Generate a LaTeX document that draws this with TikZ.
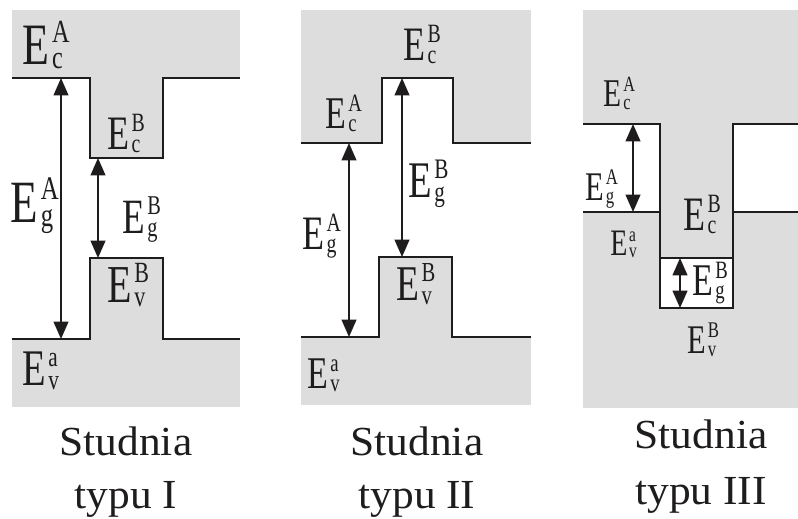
\documentclass[tikz,border=0pt]{standalone}
\usepackage{fontspec}
\setmainfont{Liberation Serif}
\newfontfamily\labfont[FakeStretch=0.75]{Liberation Serif}
\newfontfamily\capfont[FakeStretch=1.05]{Liberation Serif}
\usetikzlibrary{arrows.meta}
\definecolor{bandgray}{RGB}{221,221,221}
\definecolor{ink}{RGB}{30,28,28}
\newcommand{\EL}[3]{%
  \labfont\fontsize{#1}{#1}\selectfont E\kern0.05em%
  \rlap{\raisebox{0.37em}{\fontsize{\the\dimexpr #1pt*55/100\relax}{1pt}\selectfont #2}}%
  \raisebox{-0.08em}{\fontsize{\the\dimexpr #1pt*55/100\relax}{1pt}\selectfont #3}}
\tikzset{
  band/.style={line width=2.2pt, draw=ink, line join=miter},
  gaparrow/.style={line width=1.5pt, draw=ink,
    {Triangle[length=13pt,width=11pt]}-{Triangle[length=13pt,width=11pt]}},
  lab/.style={anchor=base west, inner sep=0pt, text=ink},
  captxt/.style={anchor=base, inner sep=0pt, text=ink,
    font=\capfont\fontsize{31}{31}\selectfont}
}
\begin{document}
\begin{tikzpicture}[x=0.75pt, y=-0.75pt]
\useasboundingbox (0,0) rectangle (798,518);
\fill[white] (0,0) rectangle (798,518);

% ---------- Panel 1 ----------
\fill[bandgray] (12,10) rectangle (240,407);
\fill[white] (12,78) -| (90,158) -| (163,78) -| (240,339) -| (163,258) -| (90,339) -| (12,78) -- cycle;
\draw[band] (12,78) -| (90,158) -| (163,78) -- (240,78);
\draw[band] (12,339) -| (90,258) -| (163,339) -- (240,339);
\coordinate (p1a1) at (61,78);  \coordinate (p1a2) at (61,339);
\coordinate (p1b1) at (98,158); \coordinate (p1b2) at (98,258);
\draw[gaparrow] (p1a1) -- (p1a2);
\draw[gaparrow] (p1b1) -- (p1b2);
\node[lab] (p1ecA) at (22,64)  {\EL{44}{A}{c}};
\node[lab] (p1ecB) at (107,149) {\EL{36}{B}{c}};
\node[lab] (p1egA) at (10,222) {\EL{45}{A}{g}};
\node[lab] (p1egB) at (122,233) {\EL{37}{B}{g}};
\node[lab] (p1evB) at (107,302) {\EL{40}{B}{v}};
\node[lab] (p1eva) at (22,385) {\EL{38.5}{a}{v}};
\node[captxt] (p1t1) at (126,455) {Studnia};
\node[captxt] (p1t2) at (126,508) {typu I};

% ---------- Panel 2 ----------
\fill[bandgray] (301,10) rectangle (531,405);
\fill[white] (301,143) -| (382,78) -| (453,143) -| (531,337) -| (452,257) -| (379,337) -| (301,143) -- cycle;
\draw[band] (301,143) -| (382,78) -| (453,143) -- (531,143);
\draw[band] (301,337) -| (379,257) -| (452,337) -- (531,337);
\coordinate (p2a1) at (349,143); \coordinate (p2a2) at (349,337);
\coordinate (p2b1) at (402,78);  \coordinate (p2b2) at (402,257);
\draw[gaparrow] (p2a1) -- (p2a2);
\draw[gaparrow] (p2b1) -- (p2b2);
\node[lab] (p2ecB) at (403,60)  {\EL{36}{B}{c}};
\node[lab] (p2ecA) at (325,128) {\EL{34}{A}{c}};
\node[lab] (p2egB) at (408,197) {\EL{38.5}{B}{g}};
\node[lab] (p2egA) at (302,249) {\EL{36}{A}{g}};
\node[lab] (p2evB) at (396,300) {\EL{37.5}{B}{v}};
\node[lab] (p2eva) at (307,388) {\EL{34}{a}{v}};
\node[captxt] (p2t1) at (417,455) {Studnia};
\node[captxt] (p2t2) at (417,508) {typu II};

% ---------- Panel 3 ----------
\fill[bandgray] (583,10) rectangle (798,408);
\fill[white] (583,124) rectangle (660,212);
\fill[white] (733,124) rectangle (798,212);
\fill[white] (660,258) rectangle (733,308);
\draw[band] (583,124) -| (660,308) -| (733,124) -- (798,124);
\draw[band] (583,212) -- (660,212);
\draw[band] (733,212) -- (798,212);
\draw[band] (660,258) -- (733,258);
\coordinate (p3a1) at (633,124); \coordinate (p3a2) at (633,212);
\coordinate (p3b1) at (680,258); \coordinate (p3b2) at (680,308);
\draw[gaparrow] (p3a1) -- (p3a2);
\draw[gaparrow] (p3b1) -- (p3b2);
\node[lab] (p3ecA) at (603,106) {\EL{29.5}{A}{c}};
\node[lab] (p3egA) at (585,200) {\EL{30.5}{A}{g}};
\node[lab] (p3eva) at (610,255) {\EL{28}{a}{v}};
\node[lab] (p3ecB) at (683,230) {\EL{36}{B}{c}};
\node[lab] (p3egB) at (692,295) {\EL{34}{B}{g}};
\node[lab] (p3evB) at (687,353) {\EL{30.5}{B}{v}};
\node[captxt] (p3t1) at (701,448) {Studnia};
\node[captxt] (p3t2) at (701,504) {typu III};
\end{tikzpicture}
\end{document}
